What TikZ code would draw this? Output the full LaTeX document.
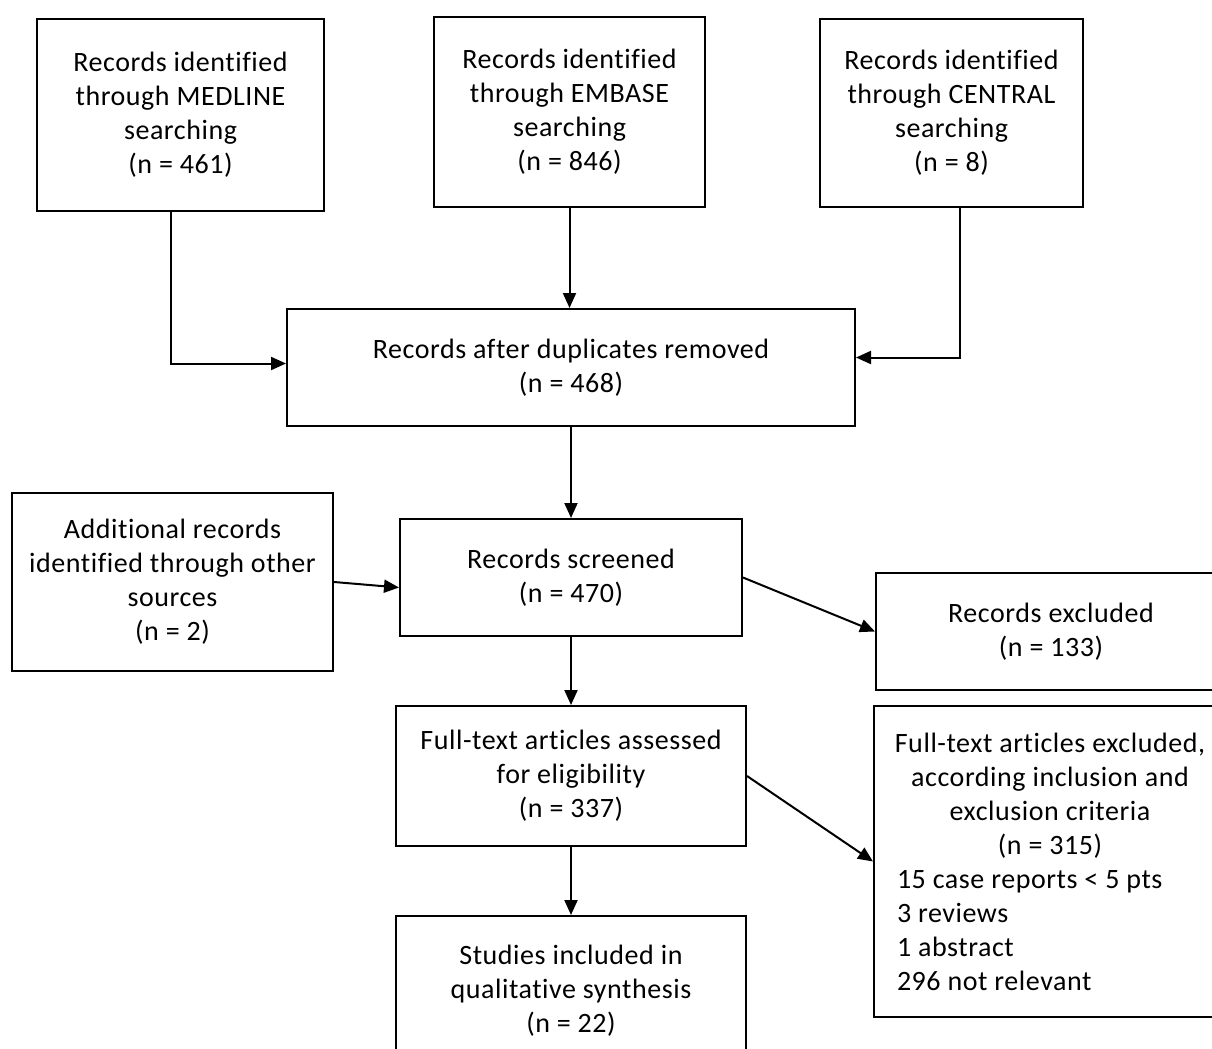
\documentclass[tikz,border=0pt]{standalone}
\usepackage{fontspec}
\setmainfont{Carlito}[Ligatures=NoCommon, LetterSpace=2.0]
\usetikzlibrary{arrows.meta}
\newcommand{\exclline}[1]{\makebox[153pt][l]{#1}}

\begin{document}
\begin{tikzpicture}[x=0.5pt, y=-0.5pt,
    box/.style={draw, line width=1pt, align=center, inner sep=0pt,
      font=\fontsize{14}{17}\selectfont},
    flow/.style={line width=1pt, -{Triangle[length=7.5pt, width=6.5pt]}}
  ]
  \useasboundingbox (0,0) rectangle (1212,1049);

  \node[box, minimum width=143.5pt, minimum height=96pt] (medline) at (180.5,115)
    {Records identified\\through MEDLINE\\searching\\(n = 461)};
  \node[box, minimum width=135.5pt, minimum height=95pt] (embase) at (569.5,112)
    {Records identified\\through EMBASE\\searching\\(n = 846)};
  \node[box, minimum width=131.5pt, minimum height=94pt] (central) at (951.5,113)
    {Records identified\\through CENTRAL\\searching\\(n = 8)};

  \node[box, minimum width=284pt, minimum height=58.5pt] (dupl) at (571,367.5)
    {Records after duplicates removed\\(n = 468)};

  \node[box, minimum width=160.5pt, minimum height=89pt] (other) at (172.5,582)
    {Additional records\\identified through other\\sources\\(n = 2)};
  \node[box, minimum width=171pt, minimum height=58.5pt] (screened) at (571,577.5)
    {Records screened\\(n = 470)};
  \node[box, minimum width=175pt, minimum height=58.5pt] (excluded) at (1051,631.5)
    {Records excluded\\(n = 133)};

  \node[box, minimum width=175pt, minimum height=70pt] (fulltext) at (571,776)
    {Full-text articles assessed\\for eligibility\\(n = 337)};
  \node[box, minimum width=176pt, minimum height=155.5pt] (ftexcl) at (1050,861.5)
    {Full-text articles excluded,\\according inclusion and\\exclusion criteria\\(n = 315)\\
     \exclline{15 case reports < 5 pts}\\\exclline{3 reviews}\\
     \exclline{1 abstract}\\\exclline{296 not relevant}};

  \node[box, minimum width=175pt, minimum height=75pt] (studies) at (571,991)
    {Studies included in\\qualitative synthesis\\(n = 22)};

  \draw[flow] ([xshift=-5pt]medline.south) |- ([yshift=2pt]dupl.west);
  \draw[flow] (embase.south) -- (embase.south |- dupl.north);
  \draw[flow] ([xshift=4pt]central.south) |- ([yshift=5pt]dupl.east);
  \draw[flow] (dupl) -- (screened);
  \draw[flow] (other.east) -- ([yshift=-5pt]screened.west);
  \draw[flow] (screened.east) -- (excluded.west);
  \draw[flow] (screened) -- (fulltext);
  \draw[flow] (fulltext.east) -- (ftexcl.west);
  \draw[flow] (fulltext) -- (studies);
\end{tikzpicture}
\end{document}
